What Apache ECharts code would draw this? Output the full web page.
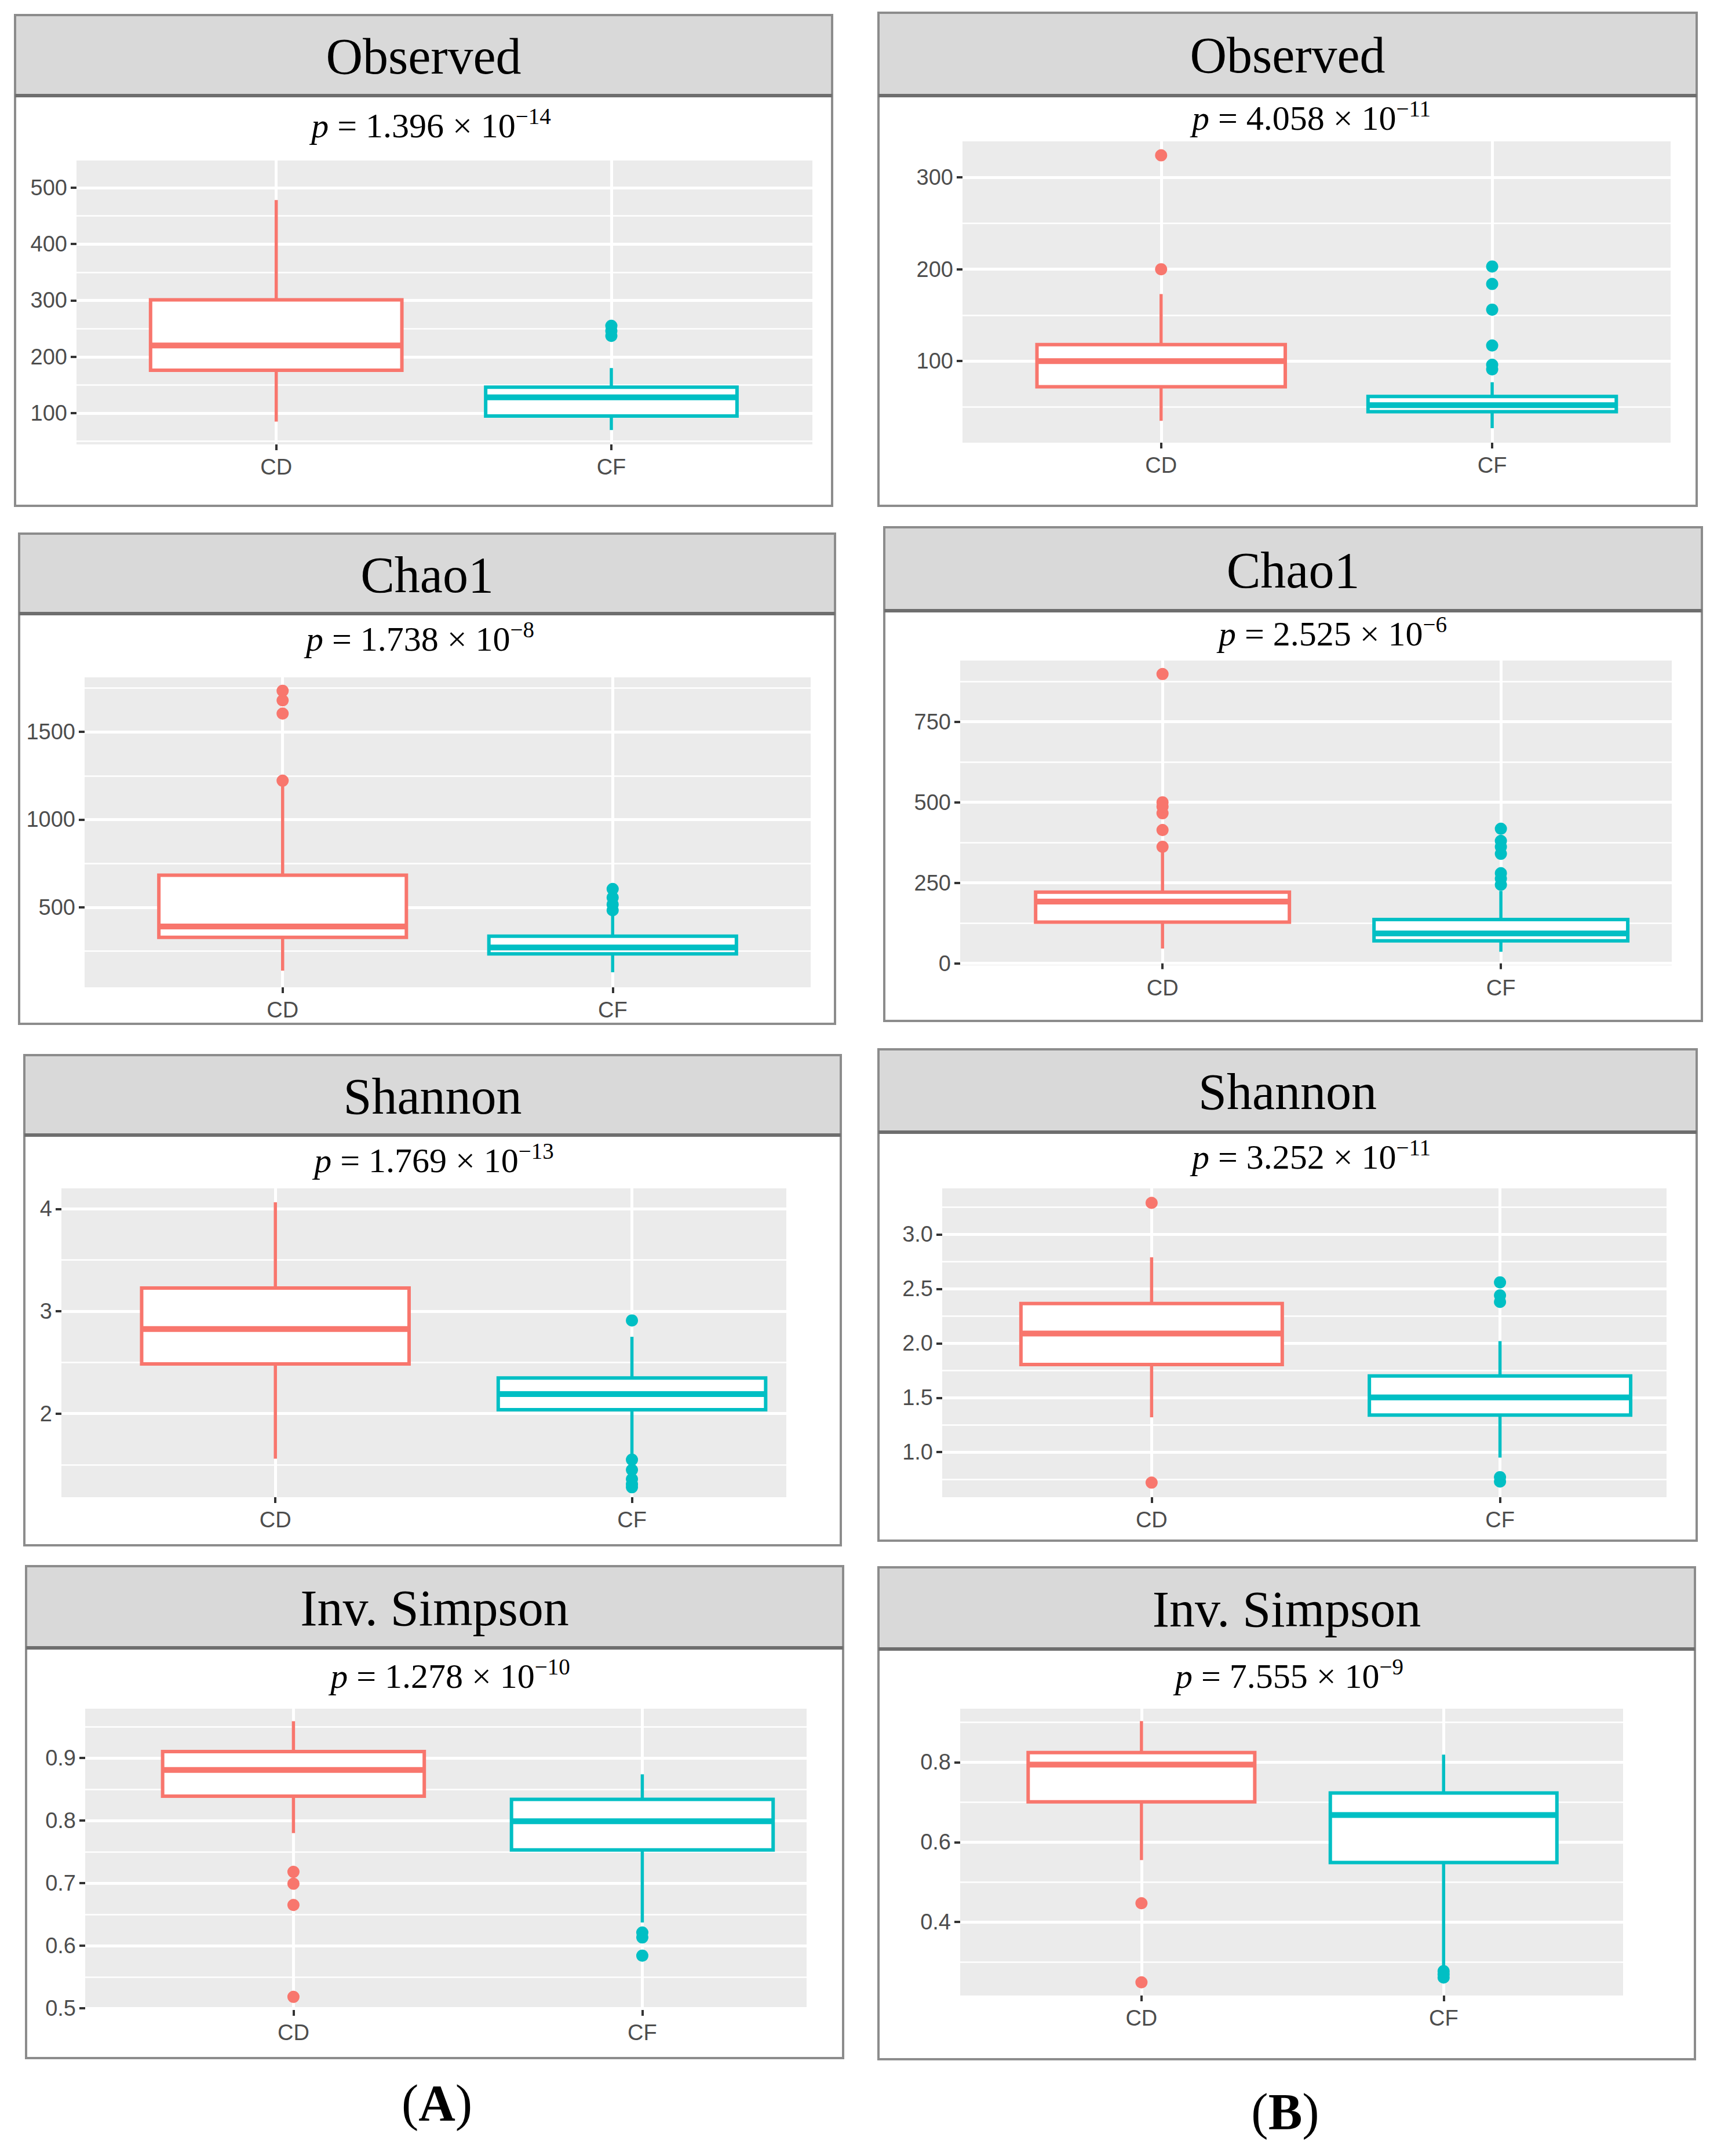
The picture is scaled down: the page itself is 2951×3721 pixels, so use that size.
<!DOCTYPE html>
<html>
<head>
<meta charset="utf-8">
<script src="https://cdn.jsdelivr.net/npm/echarts@6/dist/echarts.min.js"></script>
<style>
html,body{margin:0;padding:0;background:#ffffff;}
#chart{width:2951px;height:3721px;}
</style>
</head>
<body>
<div id="chart"></div>
<script>
// ---------------- DATA ----------------
const categories = ['CD', 'CF'];
const panelTitles = ['Observed', 'Observed', 'Chao1', 'Chao1', 'Shannon', 'Shannon', 'Inv. Simpson', 'Inv. Simpson'];
const pMantissa = ['1.396', '4.058', '1.738', '2.525', '1.769', '3.252', '1.278', '7.555'];
const pExponent = ['\u221214', '\u221211', '\u22128', '\u22126', '\u221213', '\u221211', '\u221210', '\u22129'];
const groupLabels = ['A', 'B'];

// box statistics: [lower whisker, Q1, median, Q3, upper whisker]
const observedA_CD = [85, 176, 220, 301, 478];
const observedA_CF = [70, 95, 128, 146, 180];
const observedB_CD = [35, 72, 100, 118, 173];
const observedB_CF = [27, 45, 52, 61.5, 77];
const chao1A_CD = [138, 328, 390, 683, 1190];
const chao1A_CF = [129, 234, 270, 335, 458];
const chao1B_CD = [46, 128, 192, 221, 347];
const chao1B_CF = [36, 70, 93, 136, 225];
const shannonA_CD = [1.56, 2.485, 2.826, 3.226, 4.064];
const shannonA_CF = [1.6, 2.038, 2.191, 2.347, 2.75];
const shannonB_CD = [1.32, 1.805, 2.09, 2.365, 2.79];
const shannonB_CF = [0.95, 1.34, 1.503, 1.70, 2.02];
const invSimpsonA_CD = [0.78, 0.839, 0.881, 0.9105, 0.959];
const invSimpsonA_CF = [0.637, 0.753, 0.799, 0.834, 0.874];
const invSimpsonB_CD = [0.555, 0.701, 0.794, 0.824, 0.903];
const invSimpsonB_CF = [0.285, 0.549, 0.668, 0.723, 0.819];

// outliers
const observedA_CD_out = [];
const observedA_CF_out = [237, 246, 255];
const observedB_CD_out = [200, 324];
const observedB_CF_out = [91, 96, 117, 156, 184, 203];
const chao1A_CD_out = [1222, 1605, 1680, 1735];
const chao1A_CF_out = [483, 516, 555, 604];
const chao1B_CD_out = [362, 414, 466, 487, 500, 898];
const chao1B_CF_out = [244, 263, 280, 340, 362, 380, 418];
const shannonA_CD_out = [];
const shannonA_CF_out = [2.91, 1.55, 1.45, 1.36, 1.31, 1.28];
const shannonB_CD_out = [3.29, 0.72];
const shannonB_CF_out = [2.56, 2.44, 2.38, 0.77, 0.73];
const invSimpsonA_CD_out = [0.718, 0.699, 0.665, 0.518];
const invSimpsonA_CF_out = [0.621, 0.613, 0.584];
const invSimpsonB_CD_out = [0.447, 0.249];
const invSimpsonB_CF_out = [0.277, 0.269, 0.261];

// y tick labels (major) and minor grid values
const observedA_ticks = [100, 200, 300, 400, 500];
const observedA_minor = [50, 150, 250, 350, 450];
const observedB_ticks = [100, 200, 300];
const observedB_minor = [50, 150, 250];
const chao1A_ticks = [500, 1000, 1500];
const chao1A_minor = [250, 750, 1250, 1750];
const chao1B_ticks = [0, 250, 500, 750];
const chao1B_minor = [125, 375, 625, 875];
const shannonA_ticks = [2, 3, 4];
const shannonA_minor = [1.5, 2.5, 3.5];
const shannonB_ticks = [1.0, 1.5, 2.0, 2.5, 3.0];
const shannonB_minor = [0.75, 1.25, 1.75, 2.25, 2.75, 3.25];
const invSimpsonA_ticks = [0.5, 0.6, 0.7, 0.8, 0.9];
const invSimpsonA_minor = [0.55, 0.65, 0.75, 0.85, 0.95];
const invSimpsonB_ticks = [0.4, 0.6, 0.8];
const invSimpsonB_minor = [0.3, 0.5, 0.7, 0.9];
const tickDecimals = [0, 0, 0, 0, 0, 1, 1, 1];

// y axis extents (with ggplot expansion)
const observedA_range = [44.5, 548.3];
const observedB_range = [11.2, 339.2];
const chao1A_range = [43, 1811.5];
const chao1B_range = [-6, 940];
const shannonA_range = [1.183, 4.2];
const shannonB_range = [0.586, 3.423];
const invSimpsonA_range = [0.497, 0.979];
const invSimpsonB_range = [0.216, 0.934];

// discrete x axis extents (positions 1 and 2)
const xRanges = [[0.404, 2.6], [0.4, 2.539], [0.4, 2.6], [0.402, 2.505], [0.4, 2.433], [0.399, 2.478], [0.403, 2.471], [0.4, 2.594]];

const boxStats = [
  [observedA_CD, observedA_CF], [observedB_CD, observedB_CF],
  [chao1A_CD, chao1A_CF], [chao1B_CD, chao1B_CF],
  [shannonA_CD, shannonA_CF], [shannonB_CD, shannonB_CF],
  [invSimpsonA_CD, invSimpsonA_CF], [invSimpsonB_CD, invSimpsonB_CF]
];
const outliers = [
  [observedA_CD_out, observedA_CF_out], [observedB_CD_out, observedB_CF_out],
  [chao1A_CD_out, chao1A_CF_out], [chao1B_CD_out, chao1B_CF_out],
  [shannonA_CD_out, shannonA_CF_out], [shannonB_CD_out, shannonB_CF_out],
  [invSimpsonA_CD_out, invSimpsonA_CF_out], [invSimpsonB_CD_out, invSimpsonB_CF_out]
];
const majorTicks = [observedA_ticks, observedB_ticks, chao1A_ticks, chao1B_ticks, shannonA_ticks, shannonB_ticks, invSimpsonA_ticks, invSimpsonB_ticks];
const minorTicks = [observedA_minor, observedB_minor, chao1A_minor, chao1B_minor, shannonA_minor, shannonB_minor, invSimpsonA_minor, invSimpsonB_minor];
const yRanges = [observedA_range, observedB_range, chao1A_range, chao1B_range, shannonA_range, shannonB_range, invSimpsonA_range, invSimpsonB_range];

// ---------------- LAYOUT & STYLE ----------------
const layout = [
  {border: [26, 26, 1436, 873], stripBottom: 165, plot: [132, 277, 1402, 767], pText: [744, 217]},
  {border: [1516, 22, 2928, 873], stripBottom: 165, plot: [1661, 244, 2883, 764], pText: [2263, 204]},
  {border: [33, 921, 1441, 1767], stripBottom: 1059, plot: [146, 1169, 1399, 1704], pText: [725, 1103]},
  {border: [1526, 910, 2937, 1762], stripBottom: 1054, plot: [1657, 1140, 2885, 1666], pText: [2300, 1094]},
  {border: [42, 1821, 1451, 2667], stripBottom: 1959, plot: [106, 2051, 1357, 2584], pText: [749, 2003]},
  {border: [1516, 1811, 2928, 2659], stripBottom: 1954, plot: [1626, 2051, 2876, 2584], pText: [2263, 1997]},
  {border: [45, 2703, 1455, 3552], stripBottom: 2844, plot: [147, 2949, 1392, 3469], pText: [777, 2893]},
  {border: [1516, 2705, 2925, 3554], stripBottom: 2846, plot: [1657, 2949, 2801, 3444], pText: [2225, 2893]}
];
const groupLabelPos = [[754, 3629], [2218, 3644]];
const colors = ['#F8766D', '#00BFC4'];
const BOX_WIDTH = 0.75;
const serif = "'Liberation Serif', 'DejaVu Serif', serif";
const sans = "'Liberation Sans', Arial, sans-serif";

const grids = [], xAxes = [], yAxes = [], series = [], graphics = [];

function renderBox(params, api) {
  const x = api.value(0);
  const color = colors[Math.round(x) - 1];
  const pLo = api.coord([x, api.value(1)]);
  const pQ1 = api.coord([x, api.value(2)]);
  const pMed = api.coord([x, api.value(3)]);
  const pQ3 = api.coord([x, api.value(4)]);
  const pHi = api.coord([x, api.value(5)]);
  const half = api.size([BOX_WIDTH, 0])[0] / 2;
  return {
    type: 'group',
    children: [
      {type: 'line', shape: {x1: pLo[0], y1: pLo[1], x2: pQ1[0], y2: pQ1[1]}, style: {stroke: color, lineWidth: 5.5}},
      {type: 'line', shape: {x1: pQ3[0], y1: pQ3[1], x2: pHi[0], y2: pHi[1]}, style: {stroke: color, lineWidth: 5.5}},
      {type: 'rect', shape: {x: pQ1[0] - half, y: pQ3[1], width: 2 * half, height: pQ1[1] - pQ3[1]},
        style: {fill: '#ffffff', stroke: color, lineWidth: 6}},
      {type: 'line', shape: {x1: pMed[0] - half, y1: pMed[1], x2: pMed[0] + half, y2: pMed[1]},
        style: {stroke: color, lineWidth: 10}}
    ]
  };
}

layout.forEach((L, i) => {
  const [px0, py0, px1, py1] = L.plot;
  grids.push({left: px0, top: py0, width: px1 - px0, height: py1 - py0, show: true,
    backgroundColor: '#EBEBEB', borderWidth: 0, containLabel: false});
  const dec = tickDecimals[i];
  xAxes.push({
    type: 'value', gridIndex: i, min: xRanges[i][0], max: xRanges[i][1],
    axisLine: {show: false},
    axisTick: {show: true, customValues: [1, 2], length: 10, lineStyle: {color: '#333333', width: 4}},
    axisLabel: {customValues: [1, 2], formatter: v => categories[Math.round(v) - 1],
      fontSize: 38, color: '#4D4D4D', fontFamily: sans, margin: 20},
    splitLine: {show: true, lineStyle: {color: '#ffffff', width: 5}}
  });
  yAxes.push({
    type: 'value', gridIndex: i, position: 'left', min: yRanges[i][0], max: yRanges[i][1],
    axisLine: {show: false},
    axisTick: {show: true, customValues: majorTicks[i], length: 10, lineStyle: {color: '#333333', width: 4}},
    axisLabel: {customValues: majorTicks[i], formatter: v => Number(v).toFixed(dec),
      fontSize: 38, color: '#4D4D4D', fontFamily: sans, margin: 16},
    splitLine: {show: true, lineStyle: {color: '#ffffff', width: 5}}
  });
  yAxes.push({
    type: 'value', gridIndex: i, position: 'left', min: yRanges[i][0], max: yRanges[i][1],
    axisLine: {show: false},
    axisTick: {show: false, customValues: minorTicks[i]},
    axisLabel: {show: false, customValues: minorTicks[i]},
    splitLine: {show: true, lineStyle: {color: '#ffffff', width: 2.5}}
  });
  series.push({
    type: 'custom', xAxisIndex: i, yAxisIndex: 2 * i, renderItem: renderBox, z: 3,
    data: boxStats[i].map((s, k) => [k + 1].concat(s)), silent: true
  });
  outliers[i].forEach((arr, k) => {
    series.push({
      type: 'scatter', xAxisIndex: i, yAxisIndex: 2 * i, z: 4, symbol: 'circle', symbolSize: 21,
      itemStyle: {color: colors[k], opacity: 1}, silent: true,
      data: arr.map(v => [k + 1, v])
    });
  });

  // panel decorations
  const [bx0, by0, bx1, by1] = L.border;
  graphics.push({type: 'rect', z: 0, shape: {x: bx0, y: by0, width: bx1 - bx0, height: by1 - by0},
    style: {fill: 'none', stroke: '#8C8C8C', lineWidth: 4}});
  graphics.push({type: 'rect', z: 1, shape: {x: bx0, y: by0, width: bx1 - bx0, height: L.stripBottom - by0},
    style: {fill: '#D9D9D9', stroke: '#8C8C8C', lineWidth: 4}});
  graphics.push({type: 'line', z: 2, shape: {x1: bx0, y1: L.stripBottom, x2: bx1, y2: L.stripBottom},
    style: {stroke: '#6E6E6E', lineWidth: 6}});
  graphics.push({type: 'text', z: 3, x: (bx0 + bx1) / 2, y: (by0 + L.stripBottom) / 2 + 2,
    style: {text: panelTitles[i], fontFamily: serif, fontSize: 88, fill: '#000000',
      align: 'center', verticalAlign: 'middle'}});
  graphics.push({type: 'text', z: 3, x: L.pText[0], y: L.pText[1],
    style: {
      text: '{i|p}{n| = ' + pMantissa[i] + ' \u00d7 10}{s|' + pExponent[i] + '}',
      align: 'center', verticalAlign: 'middle',
      rich: {
        i: {fontFamily: serif, fontStyle: 'italic', fontSize: 60, lineHeight: 72, fill: '#000'},
        n: {fontFamily: serif, fontSize: 60, lineHeight: 72, fill: '#000'},
        s: {fontFamily: serif, fontSize: 39, lineHeight: 40, verticalAlign: 'top', fill: '#000'}
      }
    }});
});

groupLabels.forEach((g, k) => {
  graphics.push({type: 'text', z: 3, x: groupLabelPos[k][0], y: groupLabelPos[k][1],
    style: {
      text: '{p|(}{b|' + g + '}{p|)}', align: 'center', verticalAlign: 'middle',
      rich: {
        p: {fontFamily: serif, fontSize: 88, fill: '#000'},
        b: {fontFamily: serif, fontSize: 88, fontWeight: 'bold', fill: '#000'}
      }
    }});
});

const chart = echarts.init(document.getElementById('chart'), null, {renderer: 'svg', width: 2951, height: 3721});
chart.setOption({
  backgroundColor: '#ffffff',
  animation: false,
  grid: grids,
  xAxis: xAxes,
  yAxis: yAxes,
  series: series,
  graphic: {elements: graphics}
});
</script>
</body>
</html>
